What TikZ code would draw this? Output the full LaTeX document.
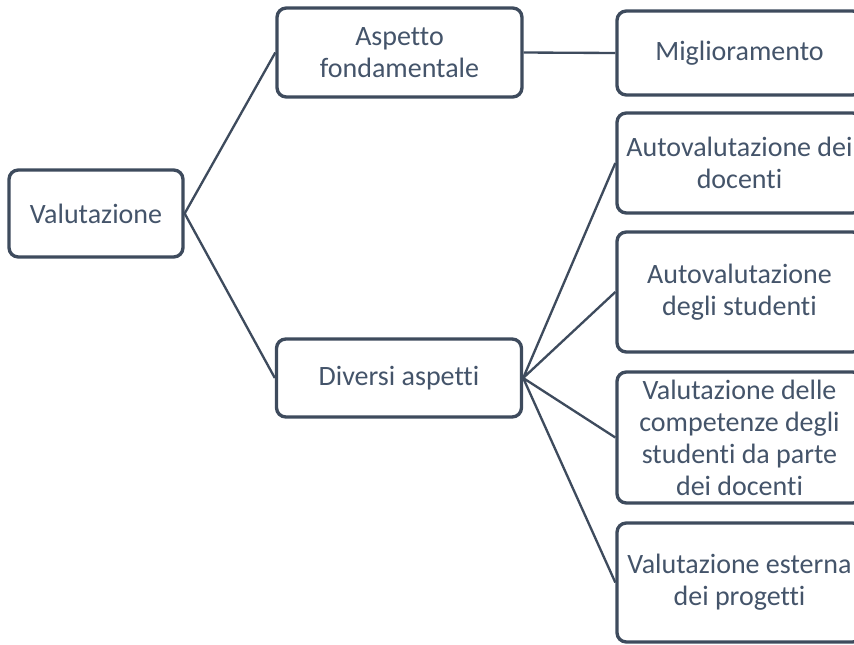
\documentclass[tikz,border=0pt]{standalone}
\usepackage{fontspec}
\setmainfont{Carlito}[Ligatures={NoCommon}]
\usepackage{tikz}
\usepackage{xcolor}
\definecolor{slate}{HTML}{44546A}
\definecolor{edgeslate}{HTML}{3E4B5D}

\tikzset{
    box/.style={draw=edgeslate, line width=2.5pt, rounded corners=7pt, fill=white,
        text=slate, align=center, inner sep=2pt,
        font=\fontsize{21}{24}\selectfont},
    wide/.style={box, minimum width=183.75pt},
    link/.style={draw=edgeslate, line width=1.75pt}
}

\begin{document}
\begin{tikzpicture}[x=0.75pt, y=-0.75pt]
        \useasboundingbox (0, 0) rectangle (854, 644);
        \clip (0, 0) rectangle (854, 644);

        \node[box, minimum width=130.5pt, minimum height=65.25pt] (val) at (96, 213.5) {Valutazione};
        \node[wide, minimum height=66.75pt] (asp) at (399.5, 52.5) {Aspetto\\fondamentale};
        \node[wide, minimum height=58.5pt] (div) at (399, 378) {Diversi aspetti};
        \node[wide, minimum height=63pt] (mig) at (739.5, 53) {Miglioramento};
        \node[wide, minimum height=75pt] (adoc) at (739.5, 163) {Autovalutazione dei\\docenti};
        \node[wide, minimum height=90pt] (astu) at (739.5, 292) {Autovalutazione\\degli studenti};
        \node[wide, minimum height=98.25pt] (comp) at (739.5, 437.5) {Valutazione delle\\competenze degli\\studenti da parte\\dei docenti};
        \node[wide, minimum height=89.25pt] (est) at (739.5, 582.5) {Valutazione esterna\\dei progetti};

        \draw[link] (val.east) to (asp.west)
            (val.east) to (div.west)
            (asp.east) to (mig.west)
            (div.east) to (adoc.west)
            (div.east) to (astu.west)
            (div.east) to (comp.west)
            (div.east) to (est.west);
    \end{tikzpicture}
\end{document}
